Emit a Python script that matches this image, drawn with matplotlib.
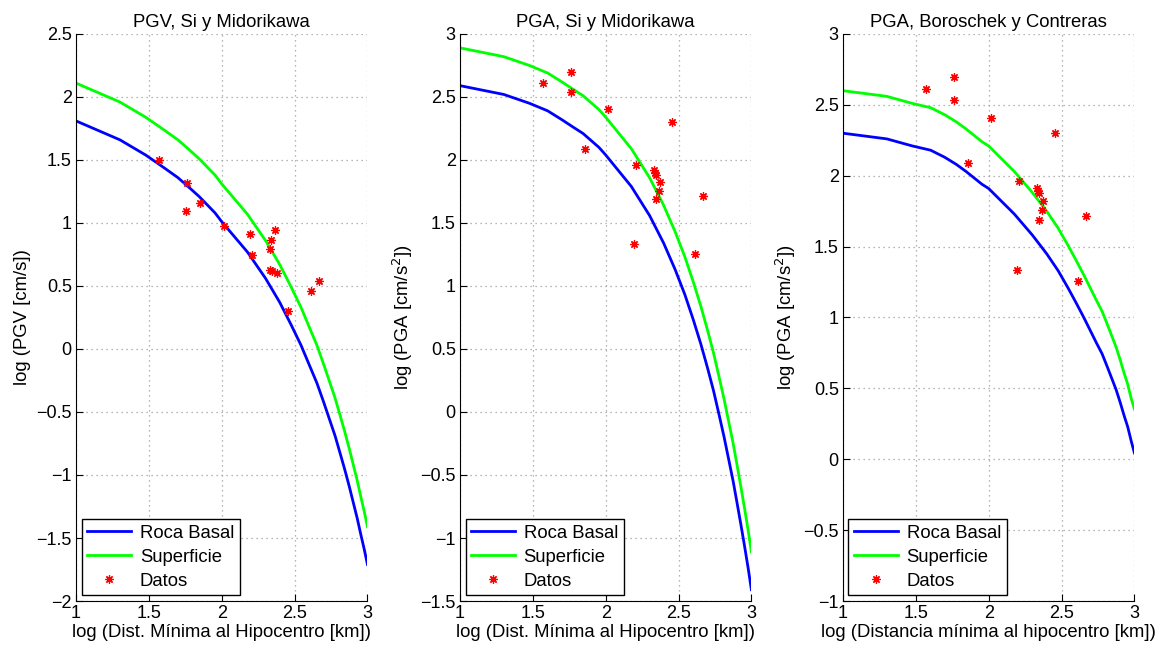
import matplotlib.pyplot as plt
from matplotlib.ticker import FuncFormatter, MultipleLocator

plt.rcParams['font.family'] = ['Liberation Sans', 'DejaVu Sans']
plt.rcParams['font.size'] = 13

# log10 of hypocentral distance (km) for the model curves
dist = [1.0, 1.301, 1.477, 1.602, 1.699, 1.778, 1.845, 1.954, 2.0, 2.176,
        2.301, 2.398, 2.477, 2.544, 2.602, 2.653, 2.699, 2.740, 2.778,
        2.813, 2.845, 2.875, 2.903, 2.929, 2.954, 2.978, 3.0]

# PGV, Si y Midorikawa
pgv_roca = [1.81, 1.66, 1.54, 1.44, 1.36, 1.28, 1.21, 1.08, 1.01, 0.77,
            0.56, 0.37, 0.19, 0.03, -0.13, -0.27, -0.42, -0.56, -0.69,
            -0.83, -0.96, -1.09, -1.22, -1.34, -1.47, -1.59, -1.71]
pgv_sup = [2.11, 1.96, 1.84, 1.74, 1.66, 1.58, 1.51, 1.38, 1.31, 1.07,
           0.86, 0.67, 0.49, 0.33, 0.17, 0.03, -0.12, -0.26, -0.39,
           -0.53, -0.66, -0.79, -0.92, -1.04, -1.17, -1.29, -1.41]

# PGA, Si y Midorikawa
pga_si_roca = [2.59, 2.52, 2.45, 2.39, 2.32, 2.26, 2.21, 2.10, 2.04, 1.79,
               1.56, 1.34, 1.13, 0.93, 0.73, 0.54, 0.35, 0.17, -0.02,
               -0.20, -0.38, -0.55, -0.73, -0.90, -1.07, -1.24, -1.41]
pga_si_sup = [2.89, 2.82, 2.75, 2.69, 2.62, 2.56, 2.51, 2.40, 2.34, 2.09,
              1.86, 1.64, 1.43, 1.23, 1.03, 0.84, 0.65, 0.47, 0.28,
              0.10, -0.08, -0.25, -0.43, -0.60, -0.77, -0.94, -1.11]

# PGA, Boroschek y Contreras
pga_bc_roca = [2.30, 2.26, 2.21, 2.18, 2.13, 2.08, 2.03, 1.94, 1.91, 1.73,
               1.58, 1.45, 1.33, 1.21, 1.10, 1.00, 0.905, 0.82, 0.745,
               0.655, 0.57, 0.49, 0.40, 0.31, 0.23, 0.13, 0.045]
pga_bc_sup = [2.60, 2.56, 2.51, 2.48, 2.43, 2.38, 2.33, 2.24, 2.21, 2.03,
              1.88, 1.75, 1.63, 1.51, 1.40, 1.30, 1.205, 1.12, 1.045,
              0.955, 0.87, 0.79, 0.70, 0.61, 0.53, 0.43, 0.355]

# registros
pgv_x = [1.571, 1.762, 1.755, 1.854, 2.018, 2.197, 2.21, 2.331, 2.338,
         2.368, 2.331, 2.347, 2.377, 2.457, 2.614, 2.669]
pgv_y = [1.498, 1.321, 1.099, 1.157, 0.974, 0.910, 0.749, 0.797, 0.862,
         0.942, 0.624, 0.618, 0.606, 0.298, 0.463, 0.537]
pga_x = [1.57, 1.76, 1.76, 2.015, 1.857, 2.455, 2.205, 2.335, 2.34, 2.345,
         2.375, 2.364, 2.345, 2.668, 2.192, 2.612]
pga_y = [2.61, 2.695, 2.537, 2.408, 2.09, 2.30, 1.96, 1.917, 1.895, 1.878,
         1.822, 1.757, 1.687, 1.718, 1.336, 1.257]

paneles = [
    ('PGV, Si y Midorikawa', pgv_roca, pgv_sup, pgv_x, pgv_y, (-2, 2.5),
     'log (PGV [cm/s])', 'log (Dist. Mínima al Hipocentro [km])'),
    ('PGA, Si y Midorikawa', pga_si_roca, pga_si_sup, pga_x, pga_y, (-1.5, 3),
     'log (PGA [cm/s$^2$])', 'log (Dist. Mínima al Hipocentro [km])'),
    ('PGA, Boroschek y Contreras', pga_bc_roca, pga_bc_sup, pga_x, pga_y, (-1, 3),
     'log (PGA [cm/s$^2$])', 'log (Distancia mínima al hipocentro [km])'),
]

fmt = FuncFormatter(lambda v, p: ('%g' % v).replace('-', '\u2212'))

fig = plt.figure(figsize=(11.68, 6.51), dpi=100)
lefts = [0.0651, 0.3938, 0.7217]

for left, (titulo, roca, sup, dx, dy, ylim, ylab, xlab) in zip(lefts, paneles):
    ax = fig.add_axes([left, 0.0768, 0.2495, 0.871])
    ax.plot(dist, roca, color='#0000ff', lw=2, label='Roca Basal')
    ax.plot(dist, sup, color='#00ff00', lw=2, label='Superficie')
    ax.plot(dx, dy, ls='none', marker=(8, 2, 0), ms=6, mew=0.9, color='#ff0000',
            label='Datos')
    ax.set_xlim(1, 3)
    ax.set_ylim(*ylim)
    ax.xaxis.set_major_locator(MultipleLocator(0.5))
    ax.yaxis.set_major_locator(MultipleLocator(0.5))
    ax.xaxis.set_major_formatter(fmt)
    ax.yaxis.set_major_formatter(fmt)
    ax.grid(True, ls=(0, (1, 3)), color='0.62', lw=0.9)
    ax.spines['top'].set_visible(False)
    ax.spines['right'].set_visible(False)
    ax.tick_params(direction='in', length=5, labelsize=13, pad=3)
    ax.set_title(titulo, fontsize=13.3, pad=5)
    ax.set_ylabel(ylab, fontsize=13.3, labelpad=4)
    ax.set_xlabel(xlab, fontsize=13.3, labelpad=1)
    leg = ax.legend(loc='lower left', fontsize=13.3, handlelength=2.4,
                    fancybox=False, framealpha=1, borderaxespad=0.3,
                    labelspacing=0.38, borderpad=0.3, handletextpad=0.45)
    leg.get_frame().set_edgecolor('black')
    leg.get_frame().set_linewidth(1)

fig.savefig('out.png', dpi=100)
